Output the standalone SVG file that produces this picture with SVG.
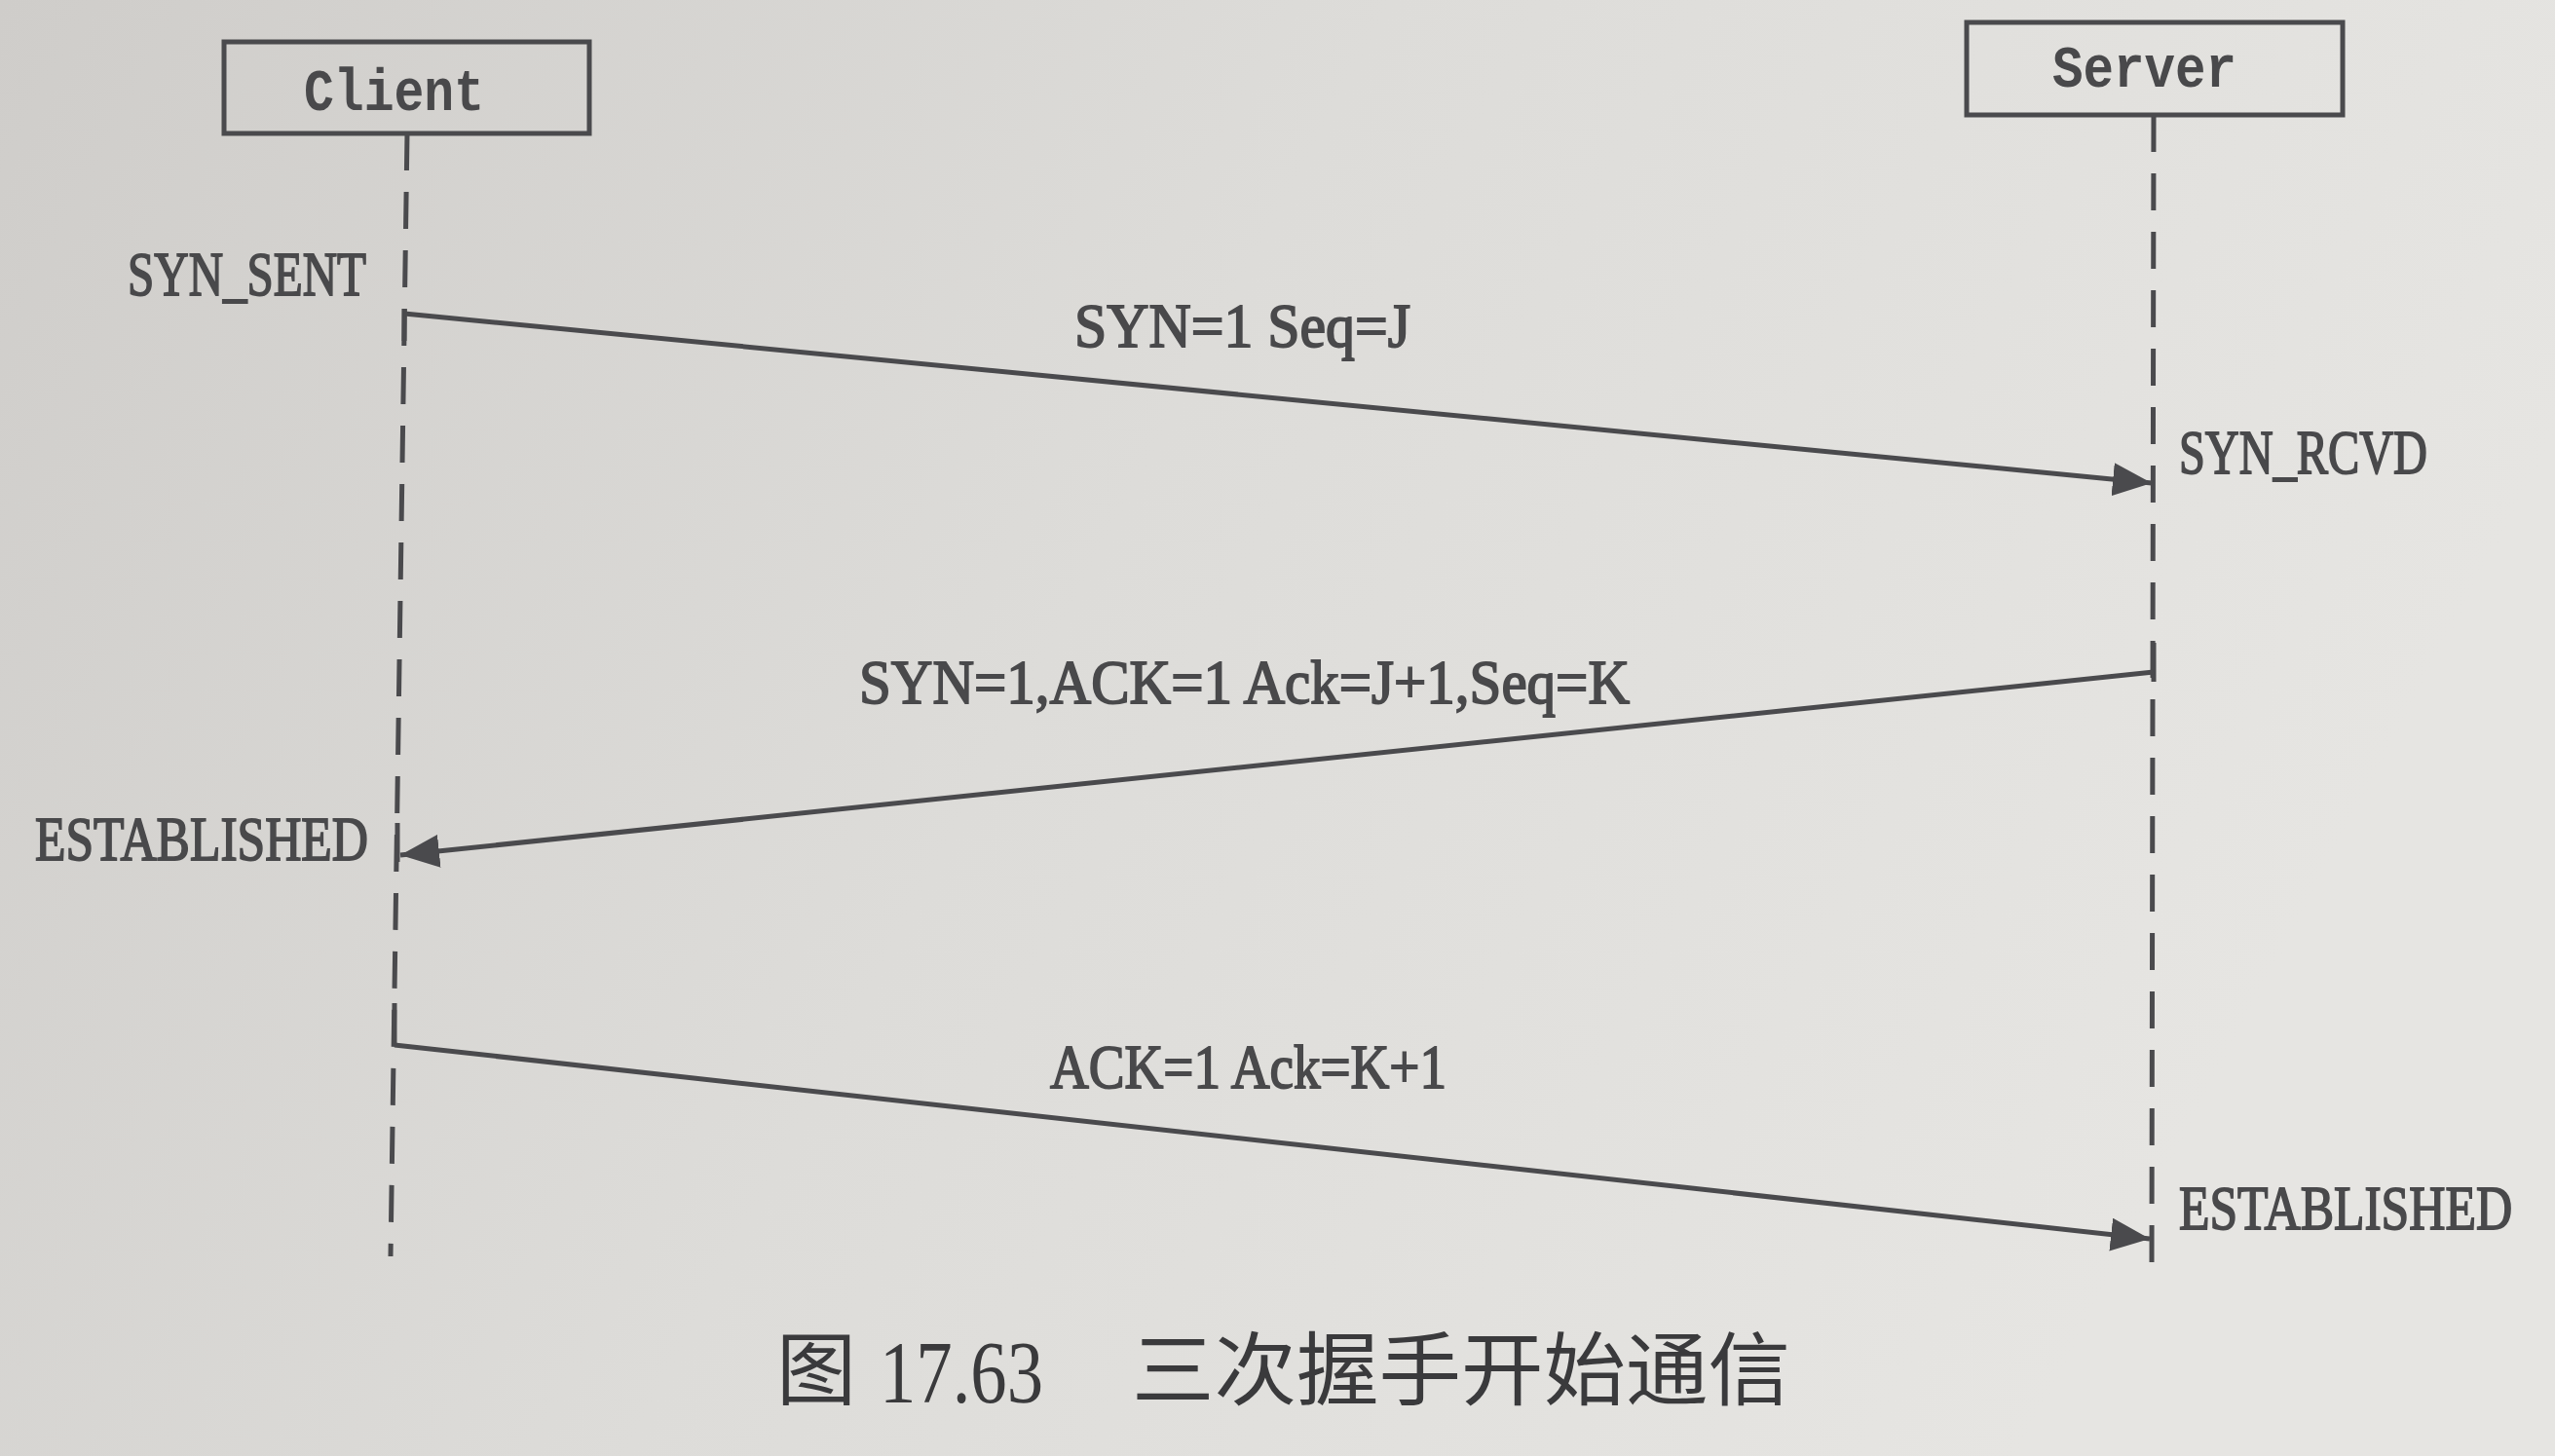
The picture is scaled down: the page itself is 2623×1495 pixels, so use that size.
<svg xmlns="http://www.w3.org/2000/svg" width="2623" height="1495" viewBox="0 0 2623 1495">
<defs>
<linearGradient id="paper" x1="0" y1="0" x2="1" y2="0.3">
<stop offset="0" stop-color="#cfcdca"/>
<stop offset="0.5" stop-color="#dddcd9"/>
<stop offset="1" stop-color="#e6e5e2"/>
</linearGradient>
<marker id="ah" markerUnits="userSpaceOnUse" markerWidth="42" markerHeight="34" refX="40" refY="17" orient="auto">
<path d="M0,0 L40,17 L0,34 z" fill="#4a4a4d"/>
</marker>
<style>
.box{fill:none;stroke:#4a4a4d;stroke-width:5}
.life{stroke:#4a4a4d;stroke-width:5;stroke-dasharray:38 22;fill:none}
.tick{stroke:#4a4a4d;stroke-width:5}
.msg{stroke:#4a4a4d;stroke-width:5;fill:none;marker-end:url(#ah)}
.nm{font-family:"Liberation Mono",monospace;font-weight:bold;font-size:62px;fill:#49494b}
.lb{font-family:"Liberation Serif",serif;font-size:64px;fill:#49494b;stroke:#49494b;stroke-width:1.8}
.cap{font-family:"Noto Sans CJK SC","Noto Sans",sans-serif;font-size:82px;fill:#3a3a3c}
.capn{font-family:"Liberation Serif",serif;font-size:90px;fill:#3a3a3c}
</style>
</defs>
<rect x="0" y="0" width="2623" height="1495" fill="url(#paper)"/>

<g id="client">
<rect class="box" x="230" y="43" width="375" height="94"/>
<text class="nm" x="312" y="113" textLength="185" lengthAdjust="spacingAndGlyphs">Client</text>
<line class="life" x1="418" y1="137" x2="401" y2="1290"/>
</g>

<g id="server">
<rect class="box" x="2019" y="23" width="386" height="95"/>
<text class="nm" x="2107" y="89" textLength="189" lengthAdjust="spacingAndGlyphs">Server</text>
<line class="life" x1="2211" y1="118" x2="2209" y2="1300"/>
</g>

<g id="states">
<text class="lb" x="131" y="303" textLength="245" lengthAdjust="spacingAndGlyphs">SYN_SENT</text>
<text class="lb" x="2237" y="486" textLength="255" lengthAdjust="spacingAndGlyphs">SYN_RCVD</text>
<text class="lb" x="36" y="883" textLength="342" lengthAdjust="spacingAndGlyphs">ESTABLISHED</text>
<text class="lb" transform="translate(2237,1262) scale(0.805,1)" x="0" y="0">ESTABLISHED</text>
</g>

<g id="connectors">
<line class="tick" x1="415" y1="317" x2="415" y2="350"/>
<path class="msg" d="M415,322 L2209,496"/>
<line class="tick" x1="2211" y1="660" x2="2211" y2="700"/>
<path class="msg" d="M2211,690 L411,878"/>
<line class="tick" x1="408" y1="845" x2="408" y2="885"/>
<line class="tick" x1="405" y1="1030" x2="405" y2="1073"/>
<path class="msg" d="M405,1073 L2207,1272"/>
<text class="lb" x="1103" y="356" textLength="345" lengthAdjust="spacingAndGlyphs">SYN=1 Seq=J</text>
<text class="lb" x="882" y="722" textLength="791" lengthAdjust="spacingAndGlyphs">SYN=1,ACK=1 Ack=J+1,Seq=K</text>
<text class="lb" x="1078" y="1117" textLength="407" lengthAdjust="spacingAndGlyphs">ACK=1 Ack=K+1</text>
</g>

<g id="caption">
<text class="cap" x="797" y="1436">图</text>
<text class="capn" x="903" y="1440" textLength="168" lengthAdjust="spacingAndGlyphs">17.63</text>
<text class="cap" x="1162" y="1436" textLength="676" lengthAdjust="spacingAndGlyphs">三次握手开始通信</text>
</g>
</svg>
